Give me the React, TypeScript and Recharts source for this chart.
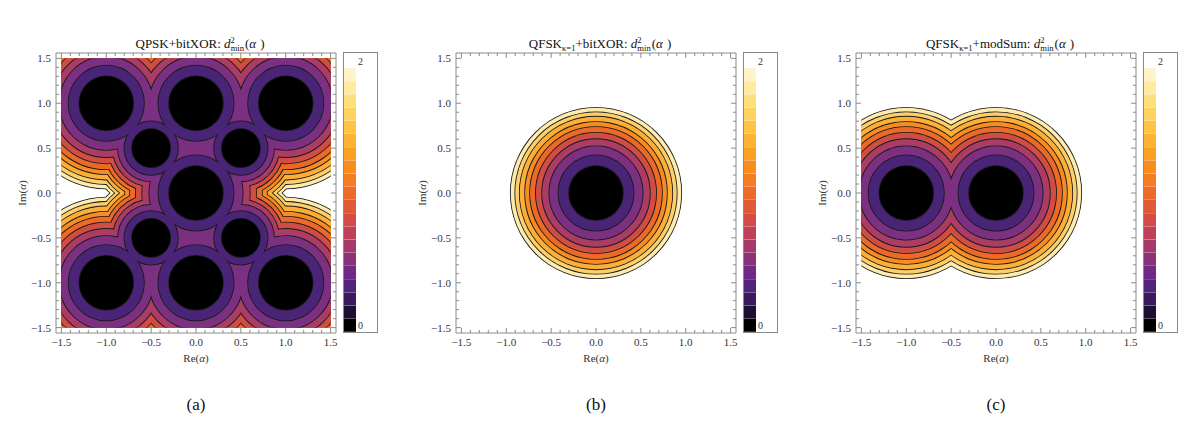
import React from "react";
import { ScatterChart, Scatter, XAxis, YAxis, ZAxis, BarChart, Bar, Cell } from "recharts";

// contour levels of d^2_min and the radius (alpha units) of each contour
// around a unit-weight singular fade state
const LEVELS = [0.2, 0.4, 0.6, 0.8, 1.0, 1.2, 1.4, 1.6, 1.8, 2.0];
const RING_RADII = [0.3, 0.42, 0.52, 0.6, 0.67, 0.735, 0.79, 0.85, 0.9, 0.95];
const BAND_COLORS = [
  "#000000", "#4a2577", "#7b3081", "#aa3c66", "#d04d44",
  "#ec6a28", "#f78c22", "#fcae36", "#fdcf6b", "#feebae",
];

// colour bar steps, bottom to top
const CBAR_EDGES = [0, 0.1, 0.2, 0.3, 0.4, 0.5, 0.6, 0.7, 0.8, 0.9, 1.0, 1.1, 1.2, 1.3, 1.4, 1.5, 1.6, 1.7, 1.8, 1.9, 2.0];
const CBAR_COLORS = [
  "#000000", "#1c0f30", "#3a1a5c", "#52237f", "#6e2a85",
  "#8a317a", "#a6386a", "#bf4058", "#d34b45", "#e25a35",
  "#ee6a27", "#f57c1f", "#f98e1d", "#fca024", "#feb233",
  "#ffc347", "#ffd25f", "#ffdf7d", "#ffea9f", "#fff3c8",
];
const CBAR_LABELS = ["0", "2"];

// (a) QPSK + bitXOR singular fade states and their weights
const QPSK_RE = [-1, 0, 1, -0.5, 0.5, 0, -0.5, 0.5, -1, 0, 1];
const QPSK_IM = [1, 1, 1, 0.5, 0.5, 0, -0.5, -0.5, -1, -1, -1];
const QPSK_WEIGHT = [1, 1, 1, 0.71, 0.71, 1, 0.71, 0.71, 1, 1, 1];

// (b) QFSK + bitXOR
const FSK_XOR_RE = [0];
const FSK_XOR_IM = [0];
const FSK_XOR_WEIGHT = [1];

// (c) QFSK + modSum
const FSK_SUM_RE = [-1, 0];
const FSK_SUM_IM = [0, 0];
const FSK_SUM_WEIGHT = [1, 1];

const AXIS_TICKS = [
  -1.5, -1.4, -1.3, -1.2, -1.1, -1.0, -0.9, -0.8, -0.7, -0.6, -0.5, -0.4, -0.3, -0.2, -0.1, 0,
  0.1, 0.2, 0.3, 0.4, 0.5, 0.6, 0.7, 0.8, 0.9, 1.0, 1.1, 1.2, 1.3, 1.4, 1.5,
];
const AXIS_DOMAIN: [number, number] = [-1.56, 1.56];
const DATA_HALF = 1.5;

const PLOT = 280;
const PPU = PLOT / (AXIS_DOMAIN[1] - AXIS_DOMAIN[0]);
const Z_MAX = DATA_HALF * DATA_HALF;

const FONT = '"Liberation Serif", "DejaVu Serif", serif';
const FRAME = "#8a8a8a";
const TICK_TEXT = "#333";

const isMajor = (v: number) => Math.abs(v * 2 - Math.round(v * 2)) < 1e-6;
const fmt = (v: number) => v.toFixed(1).replace("-", "\u2212");

function buildContours(re: number[], im: number[], weight: number[]) {
  const pts: any[] = [
    { x: 0, y: 0, z: Z_MAX, kind: "clip" },
    { x: 0, y: 0, z: 0, kind: "none" },
  ];
  // paint from the highest level down; each level: outlines first, then fills
  for (let k = LEVELS.length - 1; k >= 0; k--) {
    for (const kind of ["edge", "fill"]) {
      re.forEach((x, i) => {
        const r = RING_RADII[k] * weight[i];
        pts.push({ x, y: im[i], z: r * r, kind, color: BAND_COLORS[k] });
      });
    }
  }
  return pts;
}

const makeShape = (clipId: string) => (props: any) => {
  const { cx, cy, size } = props;
  const p = props.payload ?? props;
  const r = Math.sqrt(Math.max(size ?? 0, 0) / Math.PI);
  if (p.kind === "clip") {
    return (
      <clipPath id={clipId}>
        <rect x={cx - r} y={cy - r} width={2 * r} height={2 * r} />
      </clipPath>
    );
  }
  if (p.kind === "none") return <g />;
  if (p.kind === "edge") {
    return (
      <circle cx={cx} cy={cy} r={r} fill={p.color} stroke="#1a1a1a" strokeWidth={1.7} clipPath={`url(#${clipId})`} />
    );
  }
  return <circle cx={cx} cy={cy} r={r} fill={p.color} clipPath={`url(#${clipId})`} />;
};

const BottomTick = (props: any) => {
  const { x, y, payload } = props;
  const v = payload.value;
  const major = isMajor(v);
  return (
    <g>
      <line x1={x} x2={x} y1={y} y2={y - (major ? 5 : 3)} stroke={FRAME} />
      {major && (
        <text x={x} y={y + 13} textAnchor="middle" fontFamily={FONT} fontSize={11} fill={TICK_TEXT}>
          {fmt(v)}
        </text>
      )}
    </g>
  );
};

const TopTick = (props: any) => {
  const { x, y, payload } = props;
  const major = isMajor(payload.value);
  return <line x1={x} x2={x} y1={y} y2={y + (major ? 5 : 3)} stroke={FRAME} />;
};

const LeftTick = (props: any) => {
  const { x, y, payload } = props;
  const v = payload.value;
  const major = isMajor(v);
  return (
    <g>
      <line x1={x} x2={x + (major ? 5 : 3)} y1={y} y2={y} stroke={FRAME} />
      {major && (
        <text x={x - 5} y={y + 4} textAnchor="end" fontFamily={FONT} fontSize={11} fill={TICK_TEXT}>
          {fmt(v)}
        </text>
      )}
    </g>
  );
};

const RightTick = (props: any) => {
  const { x, y, payload } = props;
  const major = isMajor(payload.value);
  return <line x1={x} x2={x - (major ? 5 : 3)} y1={y} y2={y} stroke={FRAME} />;
};

function ColorBar() {
  // one row per colour step, listed top to bottom
  const rows = CBAR_COLORS.map((c, i) => ({
    level: (CBAR_EDGES[i] + CBAR_EDGES[i + 1]) / 2,
    span: 1,
    color: c,
  })).reverse();
  return (
    <div style={{ position: "absolute", left: 343, top: 52, width: 33, height: 279, border: `1px solid ${FRAME}` }}>
      <BarChart
        width={33}
        height={279}
        layout="vertical"
        data={rows}
        margin={{ top: 15, right: 21, bottom: 0, left: 0 }}
        barCategoryGap={0}
        barGap={0}
      >
        <XAxis hide type="number" domain={[0, 1]} allowDataOverflow />
        <YAxis hide type="category" dataKey="level" width={0} />
        <Bar dataKey="span" isAnimationActive={false}>
          {rows.map((r, i) => (
            <Cell key={i} fill={r.color} />
          ))}
        </Bar>
      </BarChart>
      <div style={{ position: "absolute", left: 14, top: 3, fontFamily: FONT, fontSize: 10, color: TICK_TEXT }}>
        {CBAR_LABELS[1]}
      </div>
      <div style={{ position: "absolute", left: 14, top: 267, fontFamily: FONT, fontSize: 10, color: TICK_TEXT }}>
        {CBAR_LABELS[0]}
      </div>
    </div>
  );
}

const Alpha = () => <i>{"\u03b1"}</i>;

const DMin = () => (
  <>
    <i>d</i>
    <span style={{ fontSize: "0.66em", lineHeight: 0, verticalAlign: "5px" }}>2</span>
    <span style={{ fontSize: "0.66em", lineHeight: 0, verticalAlign: "-3px", marginLeft: "-0.5em" }}>min</span>
    <span style={{ marginLeft: 1 }}>(</span>
    <Alpha />
    <span style={{ marginLeft: 4 }}>)</span>
  </>
);

function Panel({ left, re, im, weight, clipId, title, caption }: any) {
  const data = buildContours(re, im, weight);
  return (
    <div style={{ position: "absolute", left, top: 0, width: 400, height: 436 }}>
      <div
        style={{
          position: "absolute",
          left: 0,
          width: 400,
          top: 36,
          textAlign: "center",
          fontFamily: FONT,
          fontSize: 13,
          lineHeight: "16px",
          color: "#111",
          whiteSpace: "nowrap",
        }}
      >
        {title}
      </div>
      <ScatterChart width={400} height={400} margin={{ top: 52, right: 63, bottom: 27, left: 16 }}>
        <XAxis
          xAxisId={0}
          type="number"
          dataKey="x"
          domain={AXIS_DOMAIN}
          allowDataOverflow
          ticks={AXIS_TICKS}
          interval={0}
          height={40}
          axisLine={{ stroke: FRAME }}
          tickLine={false}
          tickSize={0}
          tickMargin={0}
          tick={<BottomTick />}
        />
        <XAxis
          xAxisId="top"
          orientation="top"
          type="number"
          dataKey="x"
          domain={AXIS_DOMAIN}
          allowDataOverflow
          ticks={AXIS_TICKS}
          interval={0}
          height={1}
          axisLine={{ stroke: FRAME }}
          tickLine={false}
          tickSize={0}
          tickMargin={0}
          tick={<TopTick />}
        />
        <YAxis
          yAxisId={0}
          type="number"
          dataKey="y"
          domain={AXIS_DOMAIN}
          allowDataOverflow
          ticks={AXIS_TICKS}
          interval={0}
          width={40}
          axisLine={{ stroke: FRAME }}
          tickLine={false}
          tickSize={0}
          tickMargin={0}
          tick={<LeftTick />}
        />
        <YAxis
          yAxisId="right"
          orientation="right"
          type="number"
          dataKey="y"
          domain={AXIS_DOMAIN}
          allowDataOverflow
          ticks={AXIS_TICKS}
          interval={0}
          width={1}
          axisLine={{ stroke: FRAME }}
          tickLine={false}
          tickSize={0}
          tickMargin={0}
          tick={<RightTick />}
        />
        <ZAxis type="number" dataKey="z" scale="linear" domain={[0, Z_MAX]} range={[0, Math.PI * PPU * PPU * Z_MAX]} />
        <Scatter data={data} shape={makeShape(clipId)} isAnimationActive={false} />
        <Scatter
          data={data.slice(1, 2)}
          xAxisId="top"
          yAxisId="right"
          shape={() => <g />}
          isAnimationActive={false}
        />
      </ScatterChart>
      <div
        style={{
          position: "absolute",
          left: 22,
          top: 193,
          transform: "translate(-50%, -50%) rotate(-90deg)",
          fontFamily: FONT,
          fontSize: 11,
          color: TICK_TEXT,
          whiteSpace: "nowrap",
        }}
      >
        Im(<Alpha />)
      </div>
      <div
        style={{
          position: "absolute",
          left: 196,
          top: 358,
          transform: "translate(-50%, -50%)",
          fontFamily: FONT,
          fontSize: 11,
          color: TICK_TEXT,
          whiteSpace: "nowrap",
        }}
      >
        Re(<Alpha />)
      </div>
      <div
        style={{
          position: "absolute",
          left: 196,
          top: 405,
          transform: "translate(-50%, -50%)",
          fontFamily: FONT,
          fontSize: 17,
          color: "#111",
        }}
      >
        {caption}
      </div>
      <ColorBar />
    </div>
  );
}

export default function App() {
  return (
    <div style={{ position: "relative", width: 1200, height: 436, background: "#fff", overflow: "hidden" }}>
      <style>{"body{margin:0}"}</style>
      <Panel
        left={0}
        re={QPSK_RE}
        im={QPSK_IM}
        weight={QPSK_WEIGHT}
        clipId="clip-a"
        caption="(a)"
        title={
          <>
            QPSK+bitXOR: <DMin />
          </>
        }
      />
      <Panel
        left={400}
        re={FSK_XOR_RE}
        im={FSK_XOR_IM}
        weight={FSK_XOR_WEIGHT}
        clipId="clip-b"
        caption="(b)"
        title={
          <>
            QFSK<span style={{ fontSize: "0.66em", lineHeight: 0, verticalAlign: "-3px" }}>{"\u03ba=1"}</span>
            +bitXOR: <DMin />
          </>
        }
      />
      <Panel
        left={800}
        re={FSK_SUM_RE}
        im={FSK_SUM_IM}
        weight={FSK_SUM_WEIGHT}
        clipId="clip-c"
        caption="(c)"
        title={
          <>
            QFSK<span style={{ fontSize: "0.66em", lineHeight: 0, verticalAlign: "-3px" }}>{"\u03ba=1"}</span>
            +modSum: <DMin />
          </>
        }
      />
    </div>
  );
}
